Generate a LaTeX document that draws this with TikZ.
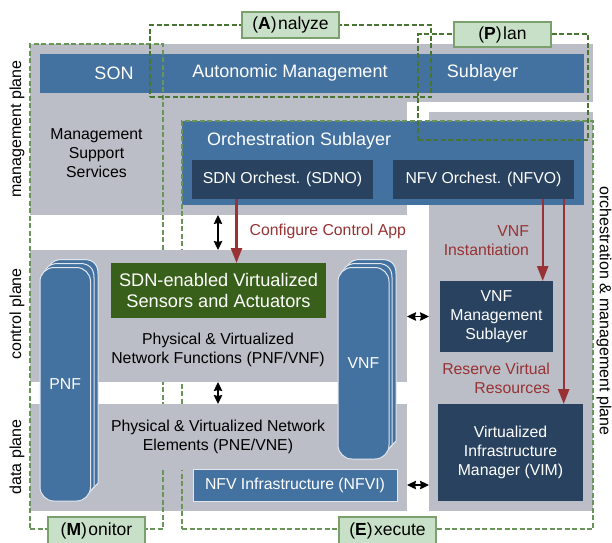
\documentclass[tikz,border=0pt]{standalone}
\usepackage{fontspec}
\setmainfont{Liberation Sans}
\usetikzlibrary{arrows.meta,calc}
\definecolor{pgray}{RGB}{187,190,198}
\definecolor{pblue}{RGB}{68,114,160}
\definecolor{pdark}{RGB}{40,66,95}
\definecolor{pgreen}{RGB}{56,96,26}
\definecolor{plabel}{RGB}{200,224,200}
\definecolor{plabeledge}{RGB}{122,160,110}
\definecolor{pred}{RGB}{152,50,52}
\definecolor{pdash}{RGB}{105,150,88}
\definecolor{pdashd}{RGB}{72,118,50}
\definecolor{pedge}{RGB}{226,230,238}
\newcommand{\sizeM}{\fontsize{15.8}{19}\selectfont}
\newcommand{\sizeL}{\fontsize{18}{22}\selectfont}
\newcommand{\sizeG}{\fontsize{18.2}{21}\selectfont}
\newcommand{\pbox}[7]{%
  \pgfmathsetmacro\bxx{(#3+#5)/2}\pgfmathsetmacro\byy{(#4+#6)/2}%
  \pgfmathsetmacro\bww{#5-#3}\pgfmathsetmacro\bhh{#6-#4}%
  \node[#1,minimum width=\bww pt,minimum height=\bhh pt] (#2) at (\bxx,\byy) {#7};}
\newcommand{\backstack}[6]{% x1,y1,x2,ystart of chamfer,xend,yend
  \draw[stackback] (#1,#6) -- (#1,#2+14) .. controls (#1,#2+5) and (#1+5,#2) .. (#1+14,#2)
    -- (#3-14,#2) .. controls (#3-5,#2) and (#3,#2+5) .. (#3,#2+14) -- (#3,#4)
    -- (#5,#6) -- cycle;}
\tikzset{
  every node/.style={inner sep=0pt,outer sep=0pt,align=center,font=\sizeM},
  graybox/.style={fill=pgray},
  bluebox/.style={fill=pblue,text=white},
  darkbox/.style={fill=pdark,text=white},
  greenbox/.style={fill=pgreen,text=white,font=\sizeG},
  nfvibox/.style={fill=pblue,text=white,draw=pedge,line width=1pt},
  stackfront/.style={fill=pblue,text=white,draw=pedge,line width=1pt,rounded corners=14pt},
  stackback/.style={fill=pblue,draw=pedge,line width=1pt},
  loopa/.style={draw=pdash,dashed,dash pattern=on 5pt off 2.5pt,line width=1.1pt},
  loopb/.style={draw=pdashd,dashed,dash pattern=on 5pt off 2.5pt,line width=1.1pt},
  mapek/.style={fill=plabel,draw=plabeledge,line width=1.2pt,font=\fontsize{17.5}{20}\selectfont},
  redlabel/.style={text=pred},
  redarrow/.style={draw=pred,line width=2.4pt,-{Stealth[length=15pt,width=11pt,inset=0pt]}},
  blackarrow/.style={draw=black,line width=1.2pt,{Stealth[length=9pt,width=8.5pt,inset=1pt]}-{Stealth[length=9pt,width=8.5pt,inset=1pt]}},
}
\begin{document}
\begin{tikzpicture}[x=1pt,y=-1pt]
\clip (0,0) rectangle (612,542);
\fill[white] (0,0) rectangle (612,542);
% gray planes
\pbox{graybox}{mgmttop}{30}{44}{593}{102}{}
\pbox{graybox}{mgmtlow}{30}{102}{407}{215}{}
\pbox{graybox}{ctrl}{30}{250}{407}{382}{}
\pbox{graybox}{datap}{30}{404}{407}{511}{}
\pbox{graybox}{rgray}{429}{112}{593}{511}{}
% blue bars
\pbox{bluebox}{sonbar}{40}{54}{584}{93}{}
\pbox{bluebox}{orch}{182}{121}{584}{205}{}
% dashed loops
\pbox{loopa}{loopm}{30}{44}{163}{529}{}
\pbox{loopa}{loope}{182}{121}{593}{529}{}
\pbox{loopb}{loopaa}{150}{25}{431}{97}{}
\pbox{loopb}{loopp}{418}{34}{588}{140}{}
% parts of the loops that run behind the plane contents
\fill[pgray] (150,250) rectangle (195,382);
\fill[pgray] (150,404) rectangle (195,470);
% texts of the top
\node[text=white,font=\sizeL] (son) at (114,73) {SON};
\node[text=white,font=\sizeL] (auto) at (290,73) {Autonomic Management};
\node[text=white,font=\sizeL] (subl) at (482.5,73) {Sublayer};
\node (mss) at (96.5,153) {Management\\Support\\Services};
\node[text=white,font=\sizeL,anchor=west] (orchtxt) at (207,141) {Orchestration Sublayer};
\pbox{darkbox}{sdno}{192}{160}{373}{199}{SDN Orchest. (SDNO)}
\pbox{darkbox}{nfvo}{393}{160}{574}{199}{NFV Orchest. (NFVO)}
% control plane contents
\pbox{greenbox}{sdnsa}{111}{263}{326}{318}{SDN-enabled Virtualized\\Sensors and Actuators}
\node (pnfvnf) at (218,349.5) {Physical \& Virtualized\\Network Functions (PNF/VNF)};
\node (pnevne) at (218,436.5) {Physical \& Virtualized Network\\Elements (PNE/VNE)};
\pbox{nfvibox}{nfvi}{193}{469}{397}{501}{NFV Infrastructure (NFVI)}
% stacks
\backstack{48}{259.5}{98}{483}{85}{497}
\backstack{44}{263.5}{94}{487}{85}{497}
\pbox{stackfront}{pnf}{40}{267.5}{90.5}{501}{PNF}
\backstack{346}{259.5}{396}{441}{383}{455}
\backstack{342}{263.5}{392}{445}{383}{455}
\pbox{stackfront}{vnf}{338}{267.5}{389}{459}{VNF}
% right column
\pbox{darkbox}{vnfm}{440}{281}{553}{352}{VNF\\Management\\Sublayer}
\pbox{darkbox}{vim}{438}{404}{583}{501}{Virtualized\\Infrastructure\\Manager (VIM)}
% red labels
\node[redlabel,anchor=east] (ccapp) at (406,231) {Configure Control App};
\node[redlabel,anchor=east,align=right] (vnfinst) at (529,240.5) {VNF\\Instantiation};
\node[redlabel,anchor=east,align=right] (resv) at (550,378) {Reserve Virtual\\Resources};
% connectors
\coordinate (ax) at (218,0);
\coordinate (rx) at (236.5,0);
\coordinate (rv) at (542.7,0);
\coordinate (rw) at (563.7,0);
\draw[redarrow] (sdno.south -| rx) -- (sdnsa.north -| rx);
\draw[redarrow] (nfvo.south -| rv) -- (vnfm.north -| rv);
\draw[redarrow] (nfvo.south -| rw) -- (vim.north -| rw);
\draw[blackarrow] (mgmtlow.south -| ax) -- (ctrl.north -| ax);
\draw[blackarrow] (ctrl.south -| ax) -- (datap.north -| ax);
\draw[blackarrow] (ctrl.east |- vnfm.west) -- (rgray.west |- vnfm.west);
\draw[blackarrow] (datap.east |- nfvi.east) -- (rgray.west |- nfvi.east);
% plane names
\node[rotate=90,font=\fontsize{16}{19}\selectfont] (lmp) at (17,129) {management plane};
\node[rotate=90,font=\fontsize{16}{19}\selectfont] (lcp) at (17,314) {control plane};
\node[rotate=90,font=\fontsize{16}{19}\selectfont] (ldp) at (17,457) {data plane};
\node[rotate=-90,font=\fontsize{16}{19}\selectfont] (lomp) at (604,311) {orchestration \& management plane};
% MAPE labels
\pbox{mapek}{lba}{242}{12}{339}{38}{(\textbf{A})\kern1.5pt nalyze}
\pbox{mapek}{lbp}{454}{22}{551}{47}{(\textbf{P})\kern1.5pt lan}
\pbox{mapek}{lbm}{48}{517}{145}{544}{(\textbf{M})\kern1.5pt onitor}
\pbox{mapek}{lbe}{339}{517}{436}{544}{(\textbf{E})\kern1.5pt xecute}
\end{tikzpicture}
\end{document}
